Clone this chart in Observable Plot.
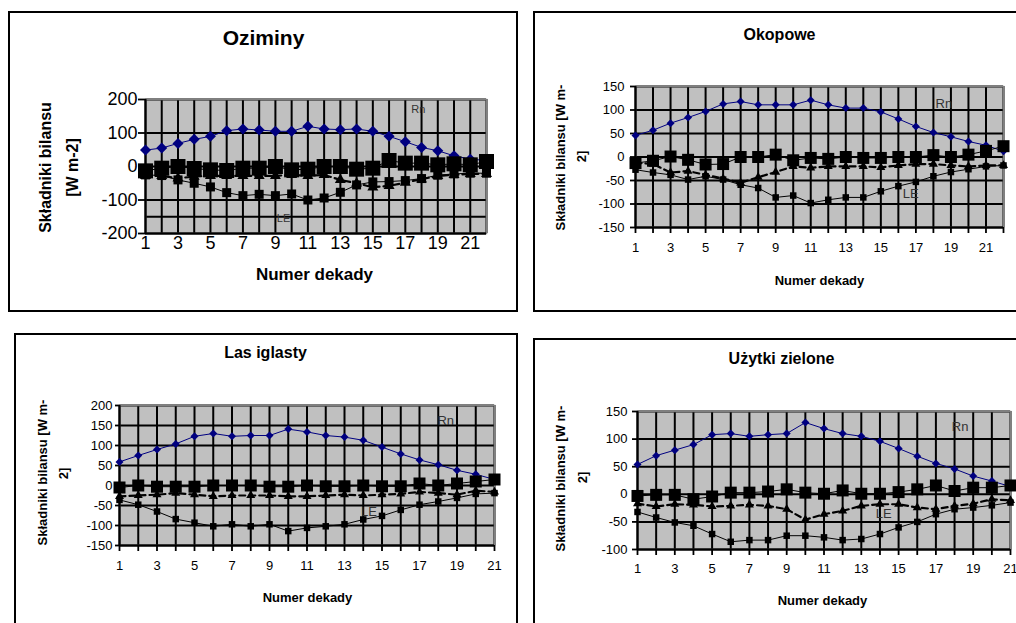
<!DOCTYPE html>
<html><head><meta charset="utf-8">
<script src="https://cdn.jsdelivr.net/npm/d3@7"></script>
<script src="https://cdn.jsdelivr.net/npm/@observablehq/plot@0.6"></script>
<style>
html,body{margin:0;padding:0;background:#fff;overflow:hidden;}
#root{position:relative;width:1016px;height:623px;overflow:hidden;font-family:"Liberation Sans",Arial,sans-serif;background:#fff;}
.box{position:absolute;border:2px solid #000;box-sizing:border-box;}
</style></head><body><div id="root"></div>
<script>
// ---- categories (numer dekady) ----
const dek22 = [1,2,3,4,5,6,7,8,9,10,11,12,13,14,15,16,17,18,19,20,21,22];
const dek21 = [1,2,3,4,5,6,7,8,9,10,11,12,13,14,15,16,17,18,19,20,21];

// ---- Oziminy ----
const rnOz = [49,55,69,81,90,107,112,109,105,105,120,112,110,112,105,90,74,57,47,32,22,18];
const leOz = [-25,-27,-40,-50,-61,-78,-87,-83,-87,-82,-100,-94,-77,-55,-46,-45,-42,-36,-26,-22,-20,-20];
const hOz  = [-28,-28,-35,-30,-28,-28,-28,-28,-28,-25,-28,-25,-40,-50,-62,-58,-48,-38,-28,-25,-22,-22];
const gOz  = [-13,-5,0,-6,-10,-12,-5,-5,0,-10,-8,0,0,-8,-5,18,10,10,5,8,5,15];

// ---- Okopowe ----
const rnOk = [46,57,72,84,97,113,118,111,111,111,121,111,104,104,96,81,65,52,43,33,25,12];
const leOk = [-27,-33,-38,-48,-41,-48,-59,-66,-86,-82,-98,-91,-86,-86,-73,-62,-53,-41,-32,-26,-20,-18];
const hOk  = [-12,-15,-33,-30,-38,-46,-55,-43,-32,-20,-23,-20,-20,-20,-22,-18,-15,-15,-18,-20,-18,-18];
const gOk  = [-13,-8,1,-6,-16,-15,0,0,5,-7,-2,-4,0,-2,-2,0,0,4,0,5,13,23];

// ---- Las iglasty ----
const rnLas = [59,75,90,104,123,130,123,125,125,141,134,125,121,113,96,79,64,52,38,28,15];
const leLas = [-36,-48,-65,-84,-93,-102,-97,-102,-97,-114,-106,-102,-97,-85,-76,-61,-48,-40,-31,-21,-19];
const hLas  = [-27,-25,-23,-19,-23,-27,-25,-25,-25,-27,-27,-25,-23,-25,-23,-21,-16,-19,-23,-13,-16];
const gLas  = [-5,0,-3,-3,-3,0,0,0,-3,-3,0,-2,-2,0,-2,-2,5,0,5,10,15];

// ---- Użytki zielone ----
const rnUz = [54,70,80,90,108,110,105,108,110,130,119,110,105,96,83,69,56,46,33,24,14];
const leUz = [-32,-42,-51,-57,-72,-86,-83,-83,-75,-75,-78,-83,-81,-72,-60,-50,-36,-27,-24,-20,-15];
const hUz  = [-17,-22,-18,-19,-22,-21,-19,-21,-27,-46,-36,-30,-21,-18,-18,-24,-27,-21,-17,-9,-11];
const gUz  = [-3,-1,-1,-9,-4,3,3,5,9,3,1,7,1,1,4,9,16,6,12,12,16];

// ---- tick values ----
const yTicksOz = [-200,-100,0,100,200];
const yTicksOk = [-150,-100,-50,0,50,100,150];
const yTicksLas = [-150,-100,-50,0,50,100,150,200];
const yTicksUz = [-100,-50,0,50,100,150];

const xTitle = "Numer dekady";

// ---- layout (page pixel coordinates) ----
const panels = [
  {title:"Oziminy", x:dek22, rn:rnOz, le:leOz, h:hOz, g:gOz, yTicks:yTicksOz, yDomain:[-200,200], xDomain:[1,22],
   extraRule:[-150],
   box:[8,11,510,301], plot:[145,99,486,233],
   titlePos:[263,38,21], yT:[["Składniki bilansu",45,167],["[W m-2]",72,167]], yTFont:16,
   xTPos:[314,274,17], tickFont:18, yTick:[7,1], xTick:[0,3],
   sz:{d:11,s:9,t:11,g:15}, labels:[["Rn",17.8,170],["LE",9.5,-154]], labFont:11},
  {title:"Okopowe", x:dek22, rn:rnOk, le:leOk, h:hOk, g:gOk, yTicks:yTicksOk, yDomain:[-150,150], xDomain:[1,22],
   extraRule:[],
   box:[533,11,495,301], plot:[635,86,1003,227],
   titlePos:[779,34,16], yT:[["Składniki bilansu [W m-",560,157],["2]",581,156]], yTFont:13,
   xTPos:[819,280,13], tickFont:13, yTick:[5,6], xTick:[6,9],
   sz:{d:8,s:6.5,t:9,g:12}, labels:[["Rn",18.6,114],["LE",16.7,-79]], labFont:13},
  {title:"Las iglasty", x:dek21, rn:rnLas, le:leLas, h:hLas, g:gLas, yTicks:yTicksLas, yDomain:[-150,200], xDomain:[1,21],
   extraRule:[],
   box:[14,333,504,300], plot:[119,405,494,545],
   titlePos:[265,352,16], yT:[["Składniki bilansu [W m-",42,472],["2]",63,473]], yTFont:13,
   xTPos:[307,597,13], tickFont:13, yTick:[4,3], xTick:[6,9],
   sz:{d:8,s:6.5,t:9,g:12}, labels:[["Rn",18.4,162],["LE",14.3,-65]], labFont:13},
  {title:"Użytki zielone", x:dek21, rn:rnUz, le:leUz, h:hUz, g:gUz, yTicks:yTicksUz, yDomain:[-100,150], xDomain:[1,21],
   extraRule:[],
   box:[533,338,495,300], plot:[637,411,1010,549],
   titlePos:[781,358,16], yT:[["Składniki bilansu [W m-",560,478],["2]",582,477]], yTFont:13,
   xTPos:[822,600,13], tickFont:13, yTick:[5,5], xTick:[6,8],
   sz:{d:8,s:6.5,t:9,g:12}, labels:[["Rn",18.3,122],["LE",14.2,-36]], labFont:13}
];

const SQ = Math.sqrt(Math.PI);
const rSquare = px => px / SQ;
const rDiamond = px => px / (1.2525 * SQ);
const rTri = px => px / (1.5197 * SQ);

const root = document.getElementById("root");

function drawPanel(p){
  const [bl,bt,bw,bh] = p.box;
  const [pl,pt,pr,pb] = p.plot;
  const box = document.createElement("div");
  box.className = "box";
  Object.assign(box.style,{left:bl+"px",top:bt+"px",width:bw+"px",height:bh+"px"});
  root.appendChild(box);

  const data = p.x.map((x,i)=>({x, rn:p.rn[i], le:p.le[i], h:p.h[i], g:p.g[i]}));
  const at = (px,py) => ({frameAnchor:"top-left", dx:px-pl, dy:py-pt});
  const lab = p.labels.map(([t,x,y])=>({t,x,y}));

  const svg = Plot.plot({
    width:bw, height:bh,
    marginLeft:pl-bl, marginTop:pt-bt, marginRight:bl+bw-pr, marginBottom:bt+bh-pb,
    x:{domain:p.xDomain, axis:null},
    y:{domain:p.yDomain, axis:null},
    style:{background:"transparent", overflow:"visible", color:"#000", fontFamily:"'Liberation Sans', Arial, sans-serif"},
    marks:[
      Plot.frame({fill:"#c0c0c0"}),
      Plot.ruleY(p.yTicks, {stroke:"#000", strokeWidth:2}),
      Plot.ruleX(p.x, {stroke:"#000", strokeWidth:2}),
      Plot.ruleY(p.extraRule, {stroke:"#000", strokeWidth:2}),
      Plot.frame({stroke:"#808080", strokeWidth:1.5}),
      Plot.ruleX([p.xDomain[0]], {stroke:"#000", strokeWidth:2}),
      Plot.ruleY([p.yDomain[0]], {stroke:"#000", strokeWidth:2}),
      Plot.axisY(p.yTicks, {tickSize:p.yTick[0], tickPadding:p.yTick[1], fontSize:p.tickFont, tickFormat:d=>String(d), label:null, strokeWidth:1.8}),
      Plot.axisX(p.x, {tickSize:p.xTick[0], tickPadding:p.xTick[1], fontSize:p.tickFont, tickFormat:d=>(d%2===1?String(d):""), label:null, strokeWidth:1.8}),
      // Rn
      Plot.line(data, {x:"x", y:"rn", stroke:"#000080", strokeWidth:1}),
      Plot.dot(data, {x:"x", y:"rn", symbol:"diamond2", fill:"#000080", r:rDiamond(p.sz.d)}),
      // LE
      Plot.line(data, {x:"x", y:"le", stroke:"#000", strokeWidth:1}),
      Plot.dot(data, {x:"x", y:"le", symbol:"square", fill:"#000", r:rSquare(p.sz.s)}),
      // H
      Plot.line(data, {x:"x", y:"h", stroke:"#000", strokeWidth:2.2, strokeDasharray:"6,4"}),
      Plot.dot(data, {x:"x", y:"h", symbol:"triangle", fill:"#000", r:rTri(p.sz.t)}),
      // G
      Plot.line(data, {x:"x", y:"g", stroke:"#000", strokeWidth:1}),
      Plot.dot(data, {x:"x", y:"g", symbol:"square", fill:"#000", r:rSquare(p.sz.g)}),
      // series labels
      Plot.text(lab, {x:"x", y:"y", text:"t", fontSize:p.labFont, fill:"#333", textAnchor:"middle"}),
      // titles
      Plot.text([p.title], {text:d=>d, ...at(p.titlePos[0],p.titlePos[1]), fontSize:p.titlePos[2], fontWeight:"bold", textAnchor:"middle", lineAnchor:"middle"}),
      ...p.yT.map(([t,x,y]) => Plot.text([t], {text:d=>d, ...at(x,y), rotate:-90, fontSize:p.yTFont, fontWeight:"bold", textAnchor:"middle", lineAnchor:"middle"})),
      Plot.text([xTitle], {text:d=>d, ...at(p.xTPos[0],p.xTPos[1]), fontSize:p.xTPos[2], fontWeight:"bold", textAnchor:"middle", lineAnchor:"middle"})
    ]
  });
  svg.style.position = "absolute";
  svg.style.left = bl + "px";
  svg.style.top = bt + "px";
  root.appendChild(svg);
}
panels.forEach(drawPanel);
</script>
</body></html>
